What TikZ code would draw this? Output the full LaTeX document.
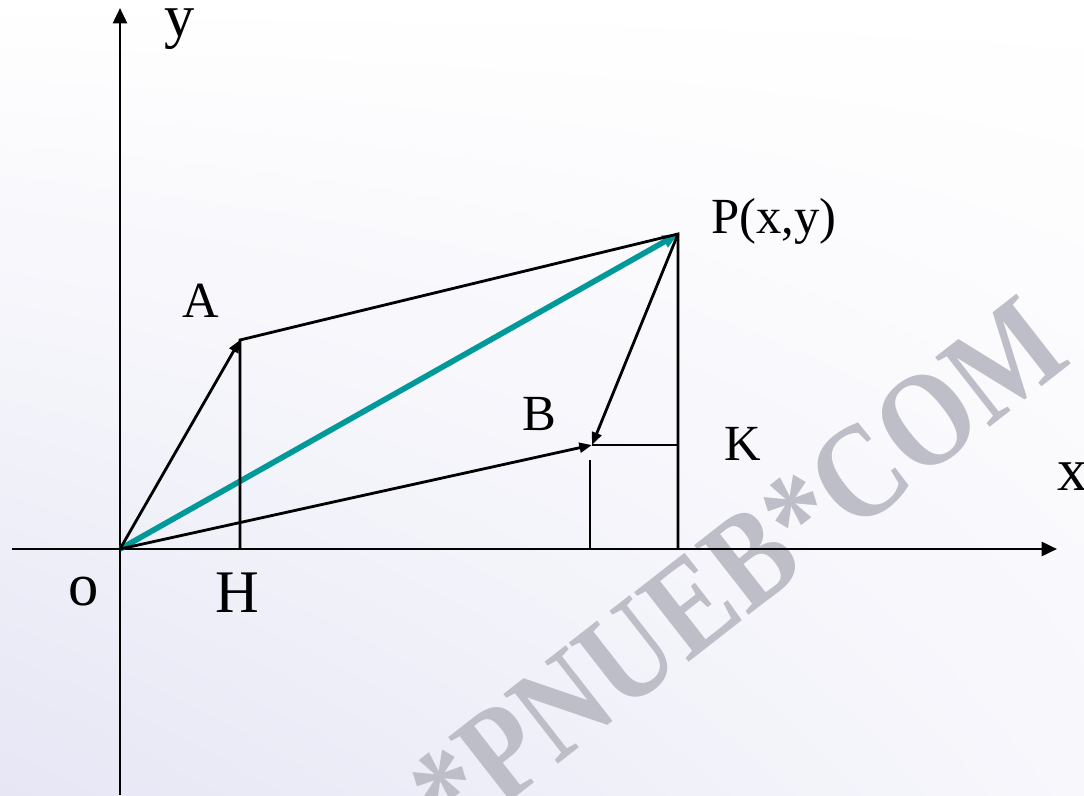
\documentclass[tikz,border=0pt]{standalone}
\usepackage{fontspec}
\setmainfont{Liberation Serif}
\usetikzlibrary{arrows.meta,shadings}
\definecolor{vecteal}{RGB}{0,153,153}
\definecolor{bglav}{RGB}{230,230,245}
\definecolor{bgpale}{RGB}{247,247,252}
\definecolor{wmgray}{RGB}{190,190,200}

\begin{document}
\begin{tikzpicture}[
    x=0.025cm, y=-0.025cm,
    >={Triangle[length=9pt,width=7pt]},
    axis/.style={-{Triangle[length=11pt,width=10pt]}, line width=2pt},
    vec/.style={->, line width=2pt},
    seg/.style={line width=2pt},
    tealvec/.style={-{Triangle[length=11pt,width=9pt]}, line width=4pt, color=vecteal},
    lbl/.style={anchor=base, inner sep=0pt, font=\fontsize{36}{40}\selectfont},
    biglbl/.style={anchor=base, inner sep=0pt, font=\fontsize{43}{48}\selectfont},
    wmark/.style={inner sep=0pt, text=wmgray, font=\bfseries\fontsize{96}{100}\selectfont}
]

% background and watermark
\shade[upper left=white, upper right=white, lower left=bglav, lower right=bgpale]
    (0,0) rectangle (1084,795);
\useasboundingbox (0,0) rectangle (1084,795);
\node[wmark, rotate=38, xscale=0.85] (wm) at (738,568) {*PNUEB*COM};

% points
\coordinate (O) at (120,549);
\coordinate (A) at (240,340);
\coordinate (H) at (240,549);
\coordinate (P) at (678,234);
\coordinate (Px) at (678,549);
\coordinate (B) at (592,445);
\coordinate (K) at (678,445);
\coordinate (Bv) at (590,460);
\coordinate (Bx) at (590,549);
\coordinate (xstart) at (12,549);
\coordinate (xend) at (1057,549);
\coordinate (ystart) at (120,795);
\coordinate (yend) at (120,8);

% axes
\draw[axis] (xstart) -- (xend);
\draw[axis] (ystart) -- (yend);

% vectors
\draw[tealvec] (O) -- (P);
\draw[seg] (H) -- (A) -- (P) -- (Px);
\draw[seg] (B) -- (K);
\draw[seg] (Bv) -- (Bx);
\draw[vec] (O) -- (A);
\draw[vec] (O) -- (B);
\draw[vec] (P) -- (B);

% labels
\node[biglbl] (laby) at (180,37) {y};
\node[biglbl] (labx) at (1073,490) {x};
\node[biglbl] (labo) at (84,605) {o};
\node[biglbl] (labH) at (237,612) {H};
\node[lbl] (labA) at (201,317) {A};
\node[lbl] (labB) at (539,430) {B};
\node[lbl] (labK) at (743,460) {K};
\node[lbl] (labP) at (774,233) {P(x,y)};

\end{tikzpicture}
\end{document}
